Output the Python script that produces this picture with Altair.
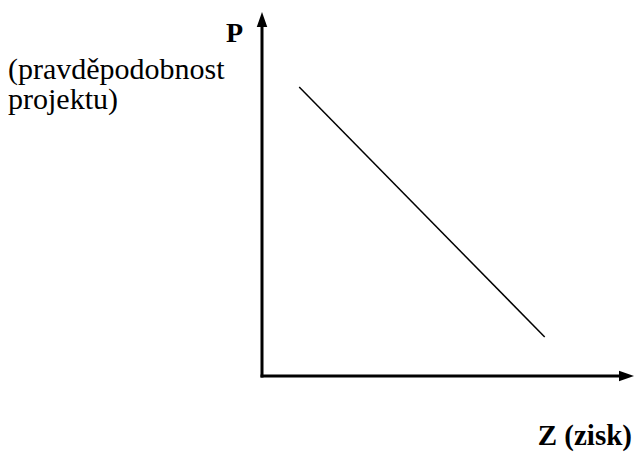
import altair as alt
import pandas as pd

# Diagram data (diagram units: axes run 0..100)
line_x = [10, 76]
line_y = [79.4, 10.7]
axis_max = 100
labels_y = ["P"]
labels_y_note = ["(pravděpodobnost", "projektu)"]
label_x = ["Z (zisk)"]

line_df = pd.DataFrame({"x": line_x, "y": line_y})
xaxis_df = pd.DataFrame({"x": [0], "x2": [axis_max - 3], "y": [0]})
yaxis_df = pd.DataFrame({"x": [0], "y": [0], "y2": [axis_max - 3]})
xtip_df = pd.DataFrame({"x": [axis_max], "y": [0]})
ytip_df = pd.DataFrame({"x": [0], "y": [axis_max]})

# x: 0 at the vertical axis, 100 at the arrow tip; y: 0 at the horizontal axis, 100 at the tip
xs = alt.Scale(domain=[0, 100], range=[254, 626], clamp=False, nice=False, zero=False)
ys = alt.Scale(domain=[0, 100], range=[368, 4], clamp=False, nice=False, zero=False)

base_x = alt.X("x:Q", scale=xs, axis=None)
base_y = alt.Y("y:Q", scale=ys, axis=None)

line = alt.Chart(line_df).mark_line(color="black", strokeWidth=1.5).encode(x=base_x, y=base_y)

xaxis = alt.Chart(xaxis_df).mark_rule(color="black", strokeWidth=3, strokeCap="square").encode(
    x=base_x, x2="x2:Q", y=base_y)
yaxis = alt.Chart(yaxis_df).mark_rule(color="black", strokeWidth=3, strokeCap="square").encode(
    x=base_x, y=base_y, y2="y2:Q")

xtip = alt.Chart(xtip_df).mark_point(
    shape="M0,0L-2,-0.7L-2,0.7Z", filled=True, color="black", opacity=1, size=225, strokeWidth=0
).encode(x=base_x, y=base_y)
ytip = alt.Chart(ytip_df).mark_point(
    shape="M0,0L-0.7,2L0.7,2Z", filled=True, color="black", opacity=1, size=225, strokeWidth=0
).encode(x=base_x, y=base_y)

font = "Liberation Serif"
tP = alt.Chart(pd.DataFrame({"t": labels_y})).mark_text(
    font=font, fontSize=28, fontWeight="bold", align="left", baseline="alphabetic", color="black"
).encode(text="t:N", x=alt.value(218), y=alt.value(34))

tnote1 = alt.Chart(pd.DataFrame({"t": labels_y_note[:1]})).mark_text(
    font=font, fontSize=30, align="left", baseline="alphabetic", color="black"
).encode(text="t:N", x=alt.value(0), y=alt.value(71))
tnote2 = alt.Chart(pd.DataFrame({"t": labels_y_note[1:]})).mark_text(
    font=font, fontSize=30, align="left", baseline="alphabetic", color="black"
).encode(text="t:N", x=alt.value(0), y=alt.value(101))

tZ = alt.Chart(pd.DataFrame({"t": label_x})).mark_text(
    font=font, fontSize=29, fontWeight="bold", align="right", baseline="alphabetic", color="black"
).encode(text="t:N", x=alt.value(624), y=alt.value(437))

chart = alt.layer(line, xaxis, yaxis, xtip, ytip, tP, tnote1, tnote2, tZ).properties(
    width=626, height=444, autosize=alt.AutoSizeParams(type="none"), padding=0,
    background="white"
).configure_view(stroke=None)

chart.save("out.html", embed_options={"renderer": "svg", "actions": False})
